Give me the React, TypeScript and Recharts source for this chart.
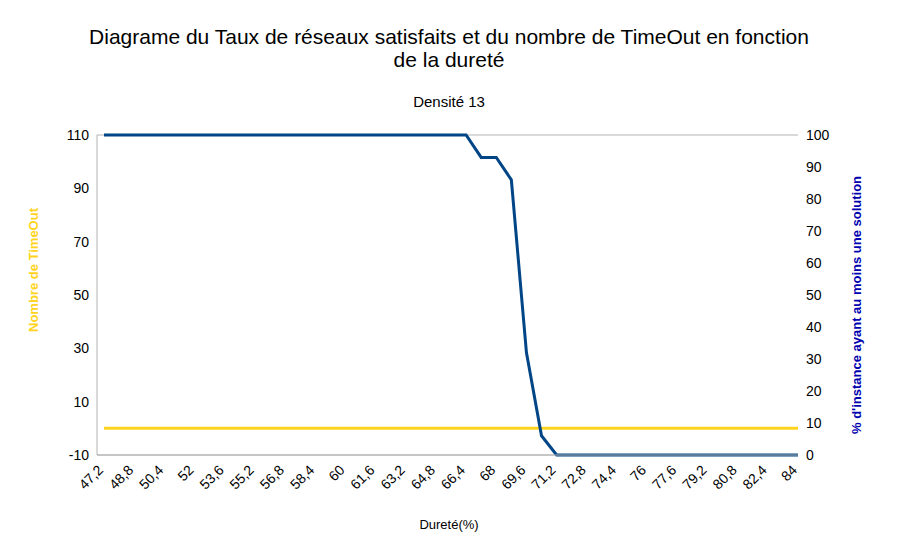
import { CartesianGrid, Line, LineChart, XAxis, YAxis } from "recharts";

const durete = [
  "47,2", "48", "48,8", "49,6", "50,4", "51,2", "52", "52,8", "53,6", "54,4", "55,2", "56", "56,8", "57,6",
  "58,4", "59,2", "60", "60,8", "61,6", "62,4", "63,2", "64", "64,8", "65,6", "66,4", "67,2", "68", "68,8",
  "69,6", "70,4", "71,2", "72", "72,8", "73,6", "74,4", "75,2", "76", "76,8", "77,6", "78,4", "79,2", "80",
  "80,8", "81,6", "82,4", "83,2", "84",
];
const pctSolution = [
  100, 100, 100, 100, 100, 100, 100, 100, 100, 100, 100, 100, 100, 100, 100, 100, 100, 100, 100, 100, 100, 100,
  100, 100, 100, 93, 93, 86, 32, 6, 0, 0, 0, 0, 0, 0, 0, 0, 0, 0, 0, 0, 0, 0, 0, 0, 0,
];
const timeOut = durete.map(() => 0);
const leftTicks = [-10, 0, 10, 20, 30, 40, 50, 60, 70, 80, 90, 100, 110];
const leftLabels = [-10, 10, 30, 50, 70, 90, 110];
const rightTicks = [0, 10, 20, 30, 40, 50, 60, 70, 80, 90, 100];

const data = durete.map((d, i) => ({ durete: d, pct: pctSolution[i], timeout: timeOut[i] }));
const font = "'Liberation Sans', Arial, sans-serif";

function XTick({ x, y, payload }: any) {
  return (
    <text x={x} y={y + 8} transform={`rotate(-45 ${x} ${y + 8})`} textAnchor="end" fontSize={14} fill="#000" fontFamily={font}>
      {payload.value}
    </text>
  );
}

export default function App() {
  return (
    <div style={{ position: "absolute", left: 0, top: 0, width: 898, height: 557, fontFamily: font, background: "#fff" }}>
      <svg width={898} height={557} style={{ position: "absolute", left: 0, top: 0 }}>
        <text x={449} y={44} textAnchor="middle" fontSize={21} fill="#000">Diagrame du Taux de réseaux satisfaits et du nombre de TimeOut en fonction</text>
        <text x={449} y={67} textAnchor="middle" fontSize={21} fill="#000">de la dureté</text>
        <text x={449} y={107} textAnchor="middle" fontSize={15} fill="#000">Densité 13</text>
        <text x={449} y={529} textAnchor="middle" fontSize={13} fill="#000">Dureté(%)</text>
        <text transform="translate(38 270) rotate(-90)" textAnchor="middle" fontSize={13} fontWeight="bold" fill="#ffd320">Nombre de TimeOut</text>
        <text transform="translate(861 305) rotate(-90)" textAnchor="middle" fontSize={13} fontWeight="bold" fill="#0000b0">% d'instance ayant au moins une solution</text>
      </svg>
      <div style={{ position: "absolute", left: 0, top: 0 }}>
        <LineChart width={898} height={557} data={data} margin={{ top: 135, right: 0, left: 0, bottom: 0 }}>
          <CartesianGrid vertical={false} stroke="#b3b3b3" />
          <XAxis dataKey="durete" interval={1} height={102} padding={{ left: 7, right: 0 }} tick={<XTick />} tickLine={false} stroke="#b3b3b3" />
          <YAxis
            yAxisId="left"
            width={97}
            domain={[-10, 110]}
            ticks={leftTicks}
            tickFormatter={(v) => (leftLabels.includes(v) ? String(v) : "")}
            tickLine={false}
            stroke="#b3b3b3"
            tick={{ fill: "#000", fontSize: 14, fontFamily: font }}
          />
          <YAxis
            yAxisId="right"
            orientation="right"
            width={100}
            domain={[0, 100]}
            ticks={rightTicks}
            tickLine={false}
            axisLine={false}
            tick={{ fill: "#000", fontSize: 14, fontFamily: font }}
          />
          <Line yAxisId="left" dataKey="timeout" stroke="#ffd320" strokeWidth={3} dot={false} isAnimationActive={false} />
          <Line yAxisId="right" dataKey="pct" stroke="#004586" strokeWidth={3} dot={false} isAnimationActive={false} />
        </LineChart>
      </div>
    </div>
  );
}
